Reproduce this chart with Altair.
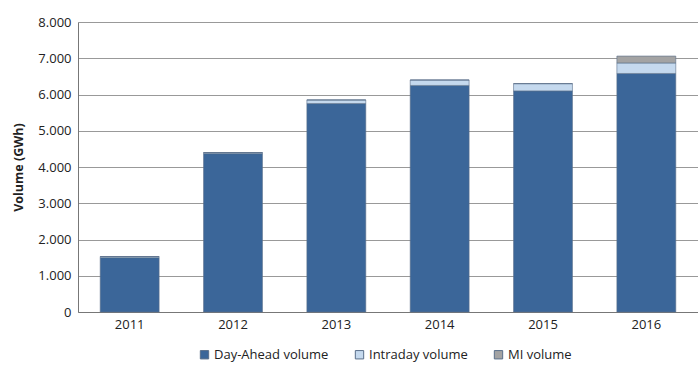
import altair as alt
import pandas as pd

years = ["2011", "2012", "2013", "2014", "2015", "2016"]
day_ahead = [1500, 4370, 5750, 6250, 6100, 6580]
intraday = [30, 30, 100, 150, 200, 290]
mi = [0, 0, 0, 0, 0, 190]
series = ["Day-Ahead volume", "Intraday volume", "MI volume"]
colors = ["#3b6699", "#c5d9ee", "#a3a3a3"]

rows = []
for i, y in enumerate(years):
    for k, (name, vals) in enumerate(zip(series, [day_ahead, intraday, mi])):
        rows.append({"Year": y, "Series": name, "Volume": vals[i], "ord": k})
df = pd.DataFrame(rows)

FONT = "Open Sans"

chart = alt.Chart(df).mark_bar(stroke="#5a6f8a", strokeWidth=0.6).encode(
    x=alt.X("Year:N", sort=years, title=None,
            scale=alt.Scale(paddingInner=0.43, paddingOuter=0.215),
            axis=alt.Axis(labelAngle=0, labelFontSize=13, labelColor="#222",
                          labelFont=FONT, domainColor="#777", ticks=False,
                          labelPadding=6, grid=False)),
    y=alt.Y("Volume:Q", stack="zero", title="Volume (GWh)",
            scale=alt.Scale(domain=[0, 8000], nice=False),
            axis=alt.Axis(values=[0, 1000, 2000, 3000, 4000, 5000, 6000, 7000, 8000],
                          labelExpr="replace(format(datum.value, ','), ',', '.')",
                          labelFontSize=13, labelColor="#222", labelFont=FONT,
                          titleFont=FONT, titleFontSize=12.5, titleFontWeight="bold",
                          titleColor="#222", titlePadding=12,
                          domainColor="#777", ticks=False, labelPadding=7,
                          gridColor="#999", gridWidth=1)),
    color=alt.Color("Series:N", sort=series,
                    scale=alt.Scale(domain=series, range=colors),
                    legend=alt.Legend(orient="none", legendX=120, legendY=326,
                                      direction="horizontal", title=None,
                                      symbolType="square", symbolSize=70,
                                      symbolStrokeColor="#5a6f8a", symbolStrokeWidth=1,
                                      labelFontSize=13, labelFont=FONT, labelColor="#222",
                                      columnPadding=24, symbolOffset=0, labelOffset=3)),
    order=alt.Order("ord:Q", sort="ascending"),
).properties(
    width=620, height=290,
    autosize=alt.AutoSizeParams(type="none"),
    padding={"left": 78, "top": 22, "right": 0, "bottom": 53},
).configure_view(stroke=None).configure(background="white")

chart.save("out.html", embed_options={"renderer": "svg", "actions": False})
